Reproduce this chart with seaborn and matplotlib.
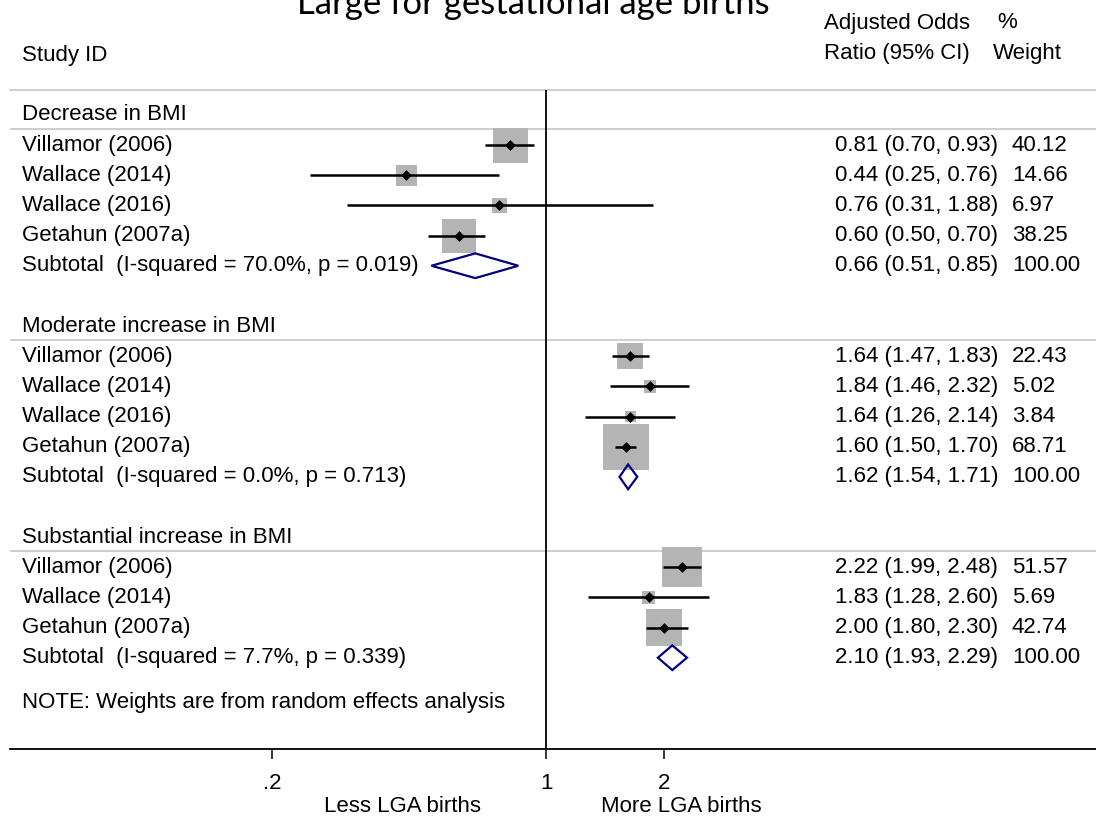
import numpy as np
import pandas as pd
import matplotlib
matplotlib.use("Agg")
import matplotlib.pyplot as plt
from matplotlib.patches import Polygon
from matplotlib.ticker import FixedLocator, FixedFormatter, NullLocator
from matplotlib.transforms import blended_transform_factory
import seaborn as sns

# ---- study-level estimates (adjusted odds ratios, 95% CI, % weight) ----
groups = ["Decrease in BMI", "Moderate increase in BMI", "Substantial increase in BMI"]

dec_studies = ["Villamor (2006)", "Wallace (2014)", "Wallace (2016)", "Getahun (2007a)"]
dec_or = [0.81, 0.44, 0.76, 0.60]
dec_lo = [0.70, 0.25, 0.31, 0.50]
dec_hi = [0.93, 0.76, 1.88, 0.70]
dec_w = [40.12, 14.66, 6.97, 38.25]

mod_studies = ["Villamor (2006)", "Wallace (2014)", "Wallace (2016)", "Getahun (2007a)"]
mod_or = [1.64, 1.84, 1.64, 1.60]
mod_lo = [1.47, 1.46, 1.26, 1.50]
mod_hi = [1.83, 2.32, 2.14, 1.70]
mod_w = [22.43, 5.02, 3.84, 68.71]

sub_studies = ["Villamor (2006)", "Wallace (2014)", "Getahun (2007a)"]
sub_or = [2.22, 1.83, 2.00]
sub_lo = [1.99, 1.28, 1.80]
sub_hi = [2.48, 2.60, 2.30]
sub_w = [51.57, 5.69, 42.74]

# ---- pooled (random effects) subtotals ----
pooled_or = [0.66, 1.62, 2.10]
pooled_lo = [0.51, 1.54, 1.93]
pooled_hi = [0.85, 1.71, 2.29]
pooled_w = [100.00, 100.00, 100.00]
pooled_i2 = [70.0, 0.0, 7.7]
pooled_p = ["0.019", "0.713", "0.339"]

x_ticks = [0.2, 1, 2]
x_tick_labels = [".2", "1", "2"]

title = "Large for gestational age births"
note = "NOTE: Weights are from random effects analysis"

# ---- assemble rows ----
study_sets = [
    (dec_studies, dec_or, dec_lo, dec_hi, dec_w),
    (mod_studies, mod_or, mod_lo, mod_hi, mod_w),
    (sub_studies, sub_or, sub_lo, sub_hi, sub_w),
]
study_rows = []
header_rows = []
pooled_rows = []
row = 0
for gi, (names, es, lo, hi, w) in enumerate(study_sets):
    header_rows.append(row)
    row += 1
    for n, e, l, h, ww in zip(names, es, lo, hi, w):
        study_rows.append(dict(group=groups[gi], study=n, es=e, lo=l, hi=h, w=ww, row=row))
        row += 1
    pooled_rows.append(row)
    row += 2
df = pd.DataFrame(study_rows)
note_row = pooled_rows[-1] + 1.5

# ---- figure ----
sns.set_style("white")
plt.rcParams["font.family"] = ["Liberation Sans", "DejaVu Sans"]
plt.rcParams["text.color"] = "black"
plt.rcParams["xtick.color"] = "black"
plt.rcParams["axes.labelcolor"] = "black"
W, H = 1096, 816
fig = plt.figure(figsize=(W / 100, H / 100), dpi=100)

def fx(px):
    return px / W

def fy(py):
    return 1 - py / H

ax_top, ax_bot = 89.6, 749.0
ax = fig.add_axes([fx(10), fy(ax_bot), fx(W - 10), (ax_bot - ax_top) / H])

row0_px, pitch = 115.0, 30.15
ax.set_ylim((ax_bot - row0_px) / pitch, (ax_top - row0_px) / pitch)

px_per_ln, one_px = 170.2, 546.0
ax.set_xscale("log")
ax.set_xlim(np.exp((10 - one_px) / px_per_ln), np.exp((W - one_px) / px_per_ln))

grey = "#c6c6c6"
# header rule and group rules
ax.axhline((ax_top - row0_px) / pitch + 0.02, color=grey, lw=1.2, zorder=1, clip_on=False)
for hr in header_rows:
    ax.axhline(hr + 0.47, color=grey, lw=1.2, zorder=1)

# line of no effect
ax.axvline(1, color="black", lw=1.3, zorder=2)

# weighted boxes (area proportional to weight)
sns.scatterplot(data=df, x="es", y="row", size="w", sizes=(0, 1585), size_norm=(0, 100),
                marker="s", color="#b4b4b4", linewidth=0, legend=False, ax=ax, zorder=3)
# confidence intervals
ax.hlines(df["row"], df["lo"], df["hi"], color="black", lw=1.8, zorder=4)
# point estimates
sns.scatterplot(data=df, x="es", y="row", marker="D", s=30, color="black",
                linewidth=0, legend=False, ax=ax, zorder=5)

# pooled diamonds
for r, e, l, h in zip(pooled_rows, pooled_or, pooled_lo, pooled_hi):
    d = Polygon([(l, r), (e, r - 0.41), (h, r), (e, r + 0.41)], closed=True,
                facecolor="none", edgecolor="#000080", lw=1.6, zorder=5)
    ax.add_patch(d)

# axis styling
for s in ["top", "left", "right"]:
    ax.spines[s].set_visible(False)
ax.spines["bottom"].set_color("black")
ax.spines["bottom"].set_linewidth(1.3)
ax.set_yticks([])
ax.xaxis.set_major_locator(FixedLocator(x_ticks))
ax.xaxis.set_major_formatter(FixedFormatter(x_tick_labels))
ax.xaxis.set_minor_locator(NullLocator())
fs = 16
ax.tick_params(axis="x", which="major", direction="out", length=7, width=1.1,
               color="black", labelcolor="black", labelsize=fs, pad=10, bottom=True)
ax.set_xlabel("")
ax.set_ylabel("")

# ---- text columns ----
tl = blended_transform_factory(fig.transFigure, ax.transData)
left_x, ci_x, wt_x = fx(22), fx(835), fx(1012)
for hr, g in zip(header_rows, groups):
    ax.text(left_x, hr, g, transform=tl, va="center", ha="left", fontsize=fs)
for _, rw in df.iterrows():
    ax.text(left_x, rw["row"], rw["study"], transform=tl, va="center", ha="left", fontsize=fs)
    ax.text(ci_x, rw["row"], f"{rw['es']:.2f} ({rw['lo']:.2f}, {rw['hi']:.2f})",
            transform=tl, va="center", ha="left", fontsize=fs)
    ax.text(wt_x, rw["row"], f"{rw['w']:.2f}", transform=tl, va="center", ha="left", fontsize=fs)
for r, e, l, h, w, i2, p in zip(pooled_rows, pooled_or, pooled_lo, pooled_hi, pooled_w,
                                pooled_i2, pooled_p):
    ax.text(left_x, r, f"Subtotal  (I-squared = {i2:.1f}%, p = {p})", transform=tl,
            va="center", ha="left", fontsize=fs)
    ax.text(ci_x, r, f"{e:.2f} ({l:.2f}, {h:.2f})", transform=tl,
            va="center", ha="left", fontsize=fs)
    ax.text(wt_x, r, f"{w:.2f}", transform=tl, va="center", ha="left", fontsize=fs)
ax.text(left_x, note_row, note, transform=tl, va="center", ha="left", fontsize=fs)

# column headers
fig.text(fx(22), fy(55), "Study ID", va="center", ha="left", fontsize=fs)
fig.text(fx(824), fy(23), "Adjusted Odds", va="center", ha="left", fontsize=fs)
fig.text(fx(824), fy(54), "Ratio (95% CI)", va="center", ha="left", fontsize=fs)
fig.text(fx(997), fy(23), "%", va="center", ha="left", fontsize=fs)
fig.text(fx(993), fy(54), "Weight", va="center", ha="left", fontsize=fs)

# direction labels under the axis
bx = blended_transform_factory(ax.transData, fig.transFigure)
ax.text(np.exp((403 - one_px) / px_per_ln), fy(806), "Less LGA births", transform=bx,
        ha="center", va="center", fontsize=fs)
ax.text(np.exp((681 - one_px) / px_per_ln), fy(806), "More LGA births", transform=bx,
        ha="center", va="center", fontsize=fs)

# title
fig.text(fx(533), fy(14), title, ha="center", va="baseline", fontsize=25,
         family=["Lato", "DejaVu Sans"])

fig.savefig("out.png", dpi=100)
